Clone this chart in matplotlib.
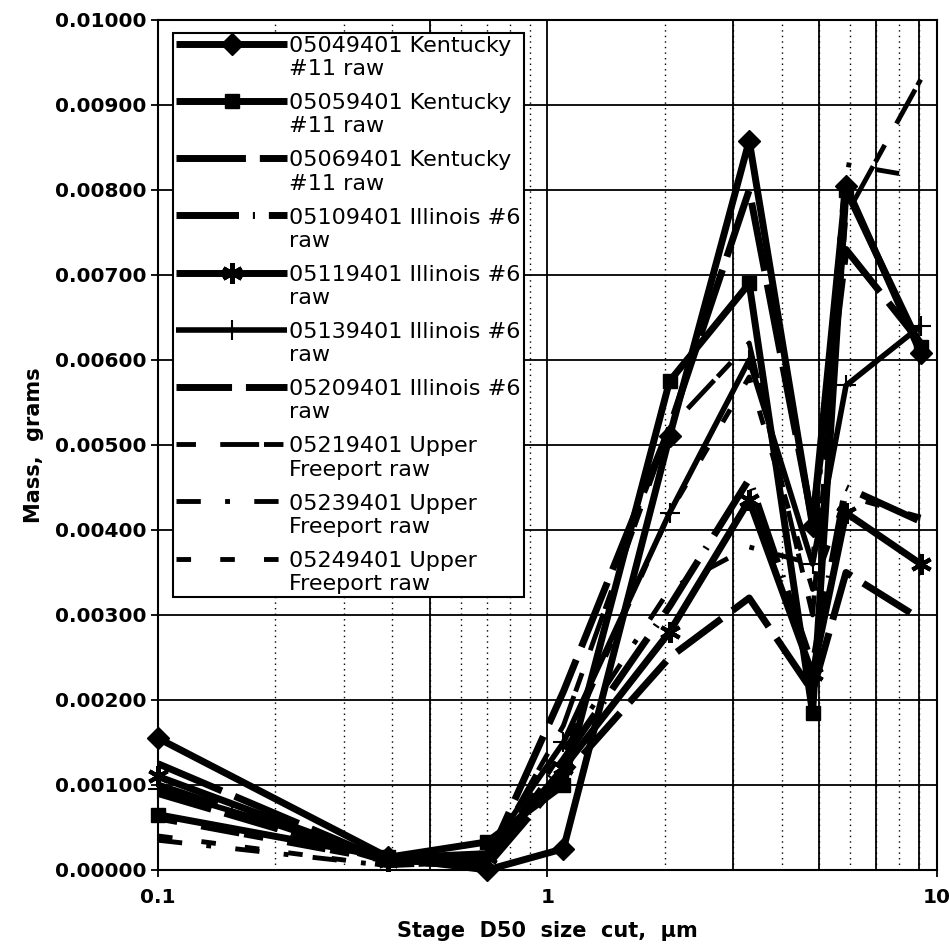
import numpy as np
import matplotlib
matplotlib.use('Agg')
import matplotlib.pyplot as plt
from matplotlib.ticker import FixedLocator, FormatStrFormatter, NullFormatter

# stage D50 size cuts (um)
d50 = [0.1, 0.39, 0.70, 1.1, 2.06, 3.3, 4.8, 5.85, 9.1]

# mass per stage, grams
k_05049401 = [0.00155, 0.00015, 0.00000, 0.00025, 0.00510, 0.00858, 0.00405, 0.00805, 0.00608]
k_05059401 = [0.00065, 0.00015, 0.00033, 0.00100, 0.00575, 0.00690, 0.00185, 0.00800, 0.00615]
k_05069401 = [0.00125, 0.00010, 0.00010, 0.00210, 0.00520, 0.00800, 0.00410, 0.00730, 0.00620]
i_05109401 = [0.00100, 0.00010, 0.00010, 0.00130, 0.00310, 0.00460, 0.00240, 0.00450, 0.00410]
i_05119401 = [0.00110, 0.00010, 0.00015, 0.00120, 0.00280, 0.00435, 0.00230, 0.00420, 0.00360]
i_05139401 = [0.00095, 0.00015, 0.00020, 0.00150, 0.00420, 0.00600, 0.00360, 0.00570, 0.00640]
i_05209401 = [0.00090, 0.00010, 0.00005, 0.00110, 0.00250, 0.00320, 0.00210, 0.00350, 0.00295]
u_05219401 = [0.00060, 0.00010, 0.00010, 0.00170, 0.00520, 0.00620, 0.00300, 0.00770, 0.00930]
u_05239401 = [0.00035, 0.00005, 0.00010, 0.00140, 0.00330, 0.00380, 0.00360, 0.00830, 0.00815]
u_05249401 = [0.00040, 0.00005, 0.00010, 0.00140, 0.00420, 0.00580, 0.00330, 0.00440, 0.00415]

labels = ['05049401 Kentucky\n#11 raw', '05059401 Kentucky\n#11 raw',
          '05069401 Kentucky\n#11 raw', '05109401 Illinois #6\nraw',
          '05119401 Illinois #6\nraw', '05139401 Illinois #6\nraw',
          '05209401 Illinois #6\nraw', '05219401 Upper\nFreeport raw',
          '05239401 Upper\nFreeport raw', '05249401 Upper\nFreeport raw']

series = [k_05049401, k_05059401, k_05069401, i_05109401, i_05119401,
          i_05139401, i_05209401, u_05219401, u_05239401, u_05249401]

# line styles for each run
styles = [
    dict(ls='-', lw=5, marker='D', ms=11),
    dict(ls='-', lw=5, marker='s', ms=10),
    dict(ls=(0, (10, 2)), lw=5, marker=None),
    dict(ls=(0, (9, 2, 0.3, 2)), lw=5, marker=None),
    dict(ls='-', lw=5, marker=(6, 2, 0), ms=15, mew=3),
    dict(ls='-', lw=4, marker='+', ms=14, mew=1.5),
    dict(ls=(0, (8, 2)), lw=5, marker=None),
    dict(ls=(0, (4, 5, 8, 1)), lw=3.5, marker=None),
    dict(ls=(0, (5, 5, 1, 5)), lw=3.5, marker=None),
    dict(ls=(0, (3, 6)), lw=3.5, marker=None),
]

plt.rcParams['font.family'] = 'DejaVu Sans'

fig = plt.figure(figsize=(9.49, 9.51), dpi=100)
ax = fig.add_axes([0.1665, 0.0852, 0.8205, 0.8938])

for y, lab, st in zip(series, labels, styles):
    ax.plot(d50, y, color='black', label=lab, clip_on=False, zorder=3,
            solid_capstyle='butt', dash_capstyle='butt', **st)

ax.set_xscale('log')
ax.set_xlim(0.1, 10)
ax.set_ylim(0, 0.01)
ax.yaxis.set_major_locator(FixedLocator(np.arange(0, 0.0101, 0.001)))
ax.yaxis.set_major_formatter(FormatStrFormatter('%.5f'))
ax.xaxis.set_major_locator(FixedLocator([0.1, 1, 10]))
ax.xaxis.set_major_formatter(FormatStrFormatter('%g'))
ax.xaxis.set_minor_formatter(NullFormatter())

ax.grid(True, which='major', color='black', lw=1.3)
ax.grid(True, which='minor', axis='x', color='black', lw=1.0, ls=(0, (1, 3)))
# some minor lines came out solid in the original
for xv in [0.5, 3, 5, 7, 9]:
    ax.axvline(xv, color='black', lw=1.3, zorder=1)
ax.set_axisbelow(True)

for s in ax.spines.values():
    s.set_linewidth(1.5)
ax.tick_params(axis='both', which='major', labelsize=14.5, length=5, width=1.3, direction='out')
ax.tick_params(axis='x', which='minor', length=0)
ax.tick_params(axis='x', pad=8)
for t in ax.get_xticklabels() + ax.get_yticklabels():
    t.set_fontweight('bold')

ax.set_xlabel('Stage  D50  size  cut,  \u03bcm', fontsize=15, fontweight='bold', labelpad=10)
ax.set_ylabel('Mass,  grams', fontsize=15, fontweight='bold', labelpad=8)

leg = ax.legend(loc='upper left', bbox_to_anchor=(0.019, 0.985), borderaxespad=0,
                prop={'size': 16}, handlelength=5.0, handletextpad=0.1, labelspacing=0.63,
                borderpad=0.15, fancybox=False, framealpha=1, edgecolor='black')
leg.get_frame().set_linewidth(1.5)
leg.set_zorder(5)
# put the line beside the first row of each label
for col in leg._legend_handle_box.get_children():
    for row in col.get_children():
        row.align = 'top'

fig.savefig('out.png', dpi=100)
